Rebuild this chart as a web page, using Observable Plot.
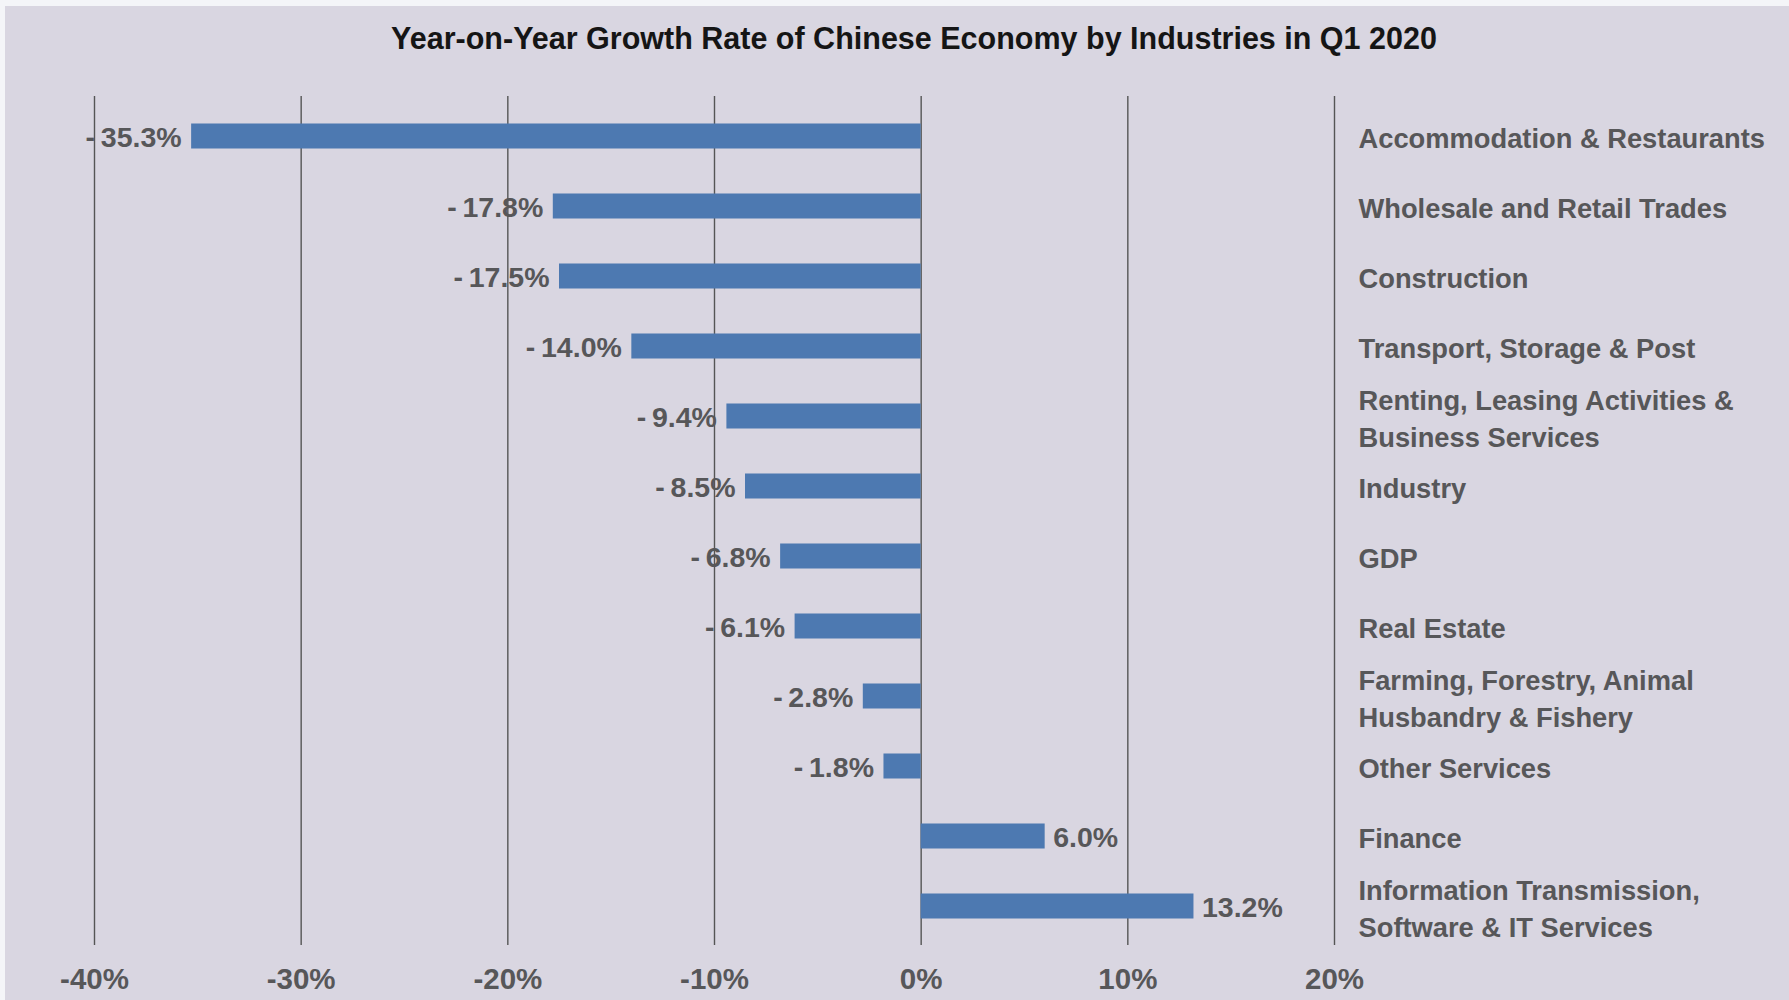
<!DOCTYPE html>
<html>
<head>
<meta charset="utf-8">
<script src="https://cdn.jsdelivr.net/npm/d3@7"></script>
<script src="https://cdn.jsdelivr.net/npm/@observablehq/plot@0.6"></script>
<style>
  html, body { margin: 0; padding: 0; width: 1789px; height: 1000px; overflow: hidden; background: #f4f5f8; }
  #panel { position: absolute; left: 5px; top: 6px; right: 0; bottom: 0; background: #d9d6e1; }
  #title { position: absolute; top: 18px; left: 914px; transform: translateX(-50%); white-space: nowrap;
           font-family: "Liberation Sans", Arial, sans-serif;
           font-size: 30.5px; font-weight: bold; color: #151515; line-height: 40px; }
  #chart { position: absolute; left: 0; top: 60px; }
  #chart svg { background: transparent; overflow: visible; }
</style>
</head>
<body>
<div id="panel"></div>
<div id="title">Year-on-Year Growth Rate of Chinese Economy by Industries in Q1 2020</div>
<div id="chart"></div>
<script>
const industries = [
  "Accommodation & Restaurants",
  "Wholesale and Retail Trades",
  "Construction",
  "Transport, Storage & Post",
  "Renting, Leasing Activities &\nBusiness Services",
  "Industry",
  "GDP",
  "Real Estate",
  "Farming, Forestry, Animal\nHusbandry & Fishery",
  "Other Services",
  "Finance",
  "Information Transmission,\nSoftware & IT Services"
];
const growth = [-35.3, -17.8, -17.5, -14.0, -9.4, -8.5, -6.8, -6.1, -2.8, -1.8, 6.0, 13.2];
const xTicks = [-40, -30, -20, -10, 0, 10, 20];

const data = industries.map((name, i) => ({name, value: growth[i]}));
const neg = data.filter(d => d.value < 0);
const pos = data.filter(d => d.value >= 0);

const FONT = '"Liberation Sans", Arial, sans-serif';
const grey = "#575759";
const fmt = v => v < 0 ? "-\u2009" + Math.abs(v).toFixed(1) + "%" : v.toFixed(1) + "%";

const chart = Plot.plot({
  width: 1789,
  height: 940,
  marginLeft: 94,
  marginRight: 455,
  marginTop: 36,
  marginBottom: 55,
  style: {fontFamily: FONT, background: "transparent", overflow: "visible"},
  x: {domain: [-40, 20], ticks: xTicks, tickFormat: d => d + "%"},
  y: {domain: industries, padding: 0, axis: null},
  marks: [
    Plot.ruleX(xTicks, {stroke: "#555", strokeWidth: 1.4}),
    Plot.barX(data, {x: "value", y: "name", fill: "#4d79b1", insetTop: 22.5, insetBottom: 22.5}),
    Plot.text(neg, {x: "value", y: "name", text: d => fmt(d.value), textAnchor: "end", dx: -10, dy: 1,
      fill: grey, fontSize: 28.5, fontWeight: "bold"}),
    Plot.text(pos, {x: "value", y: "name", text: d => fmt(d.value), textAnchor: "start", dx: 8, dy: 1,
      fill: grey, fontSize: 28.5, fontWeight: "bold"}),
    Plot.text(data, {y: "name", text: "name", frameAnchor: "right", textAnchor: "start", dx: 24,
      fill: grey, fontSize: 27.3, fontWeight: "bold", lineHeight: 1.35}),
    Plot.axisX({ticks: xTicks, tickFormat: d => d + "%", tickSize: 0, tickPadding: 23, fontSize: 29.5,
      fontWeight: "bold", fill: grey, label: null})
  ]
});
document.getElementById("chart").appendChild(chart);
</script>
</body>
</html>
